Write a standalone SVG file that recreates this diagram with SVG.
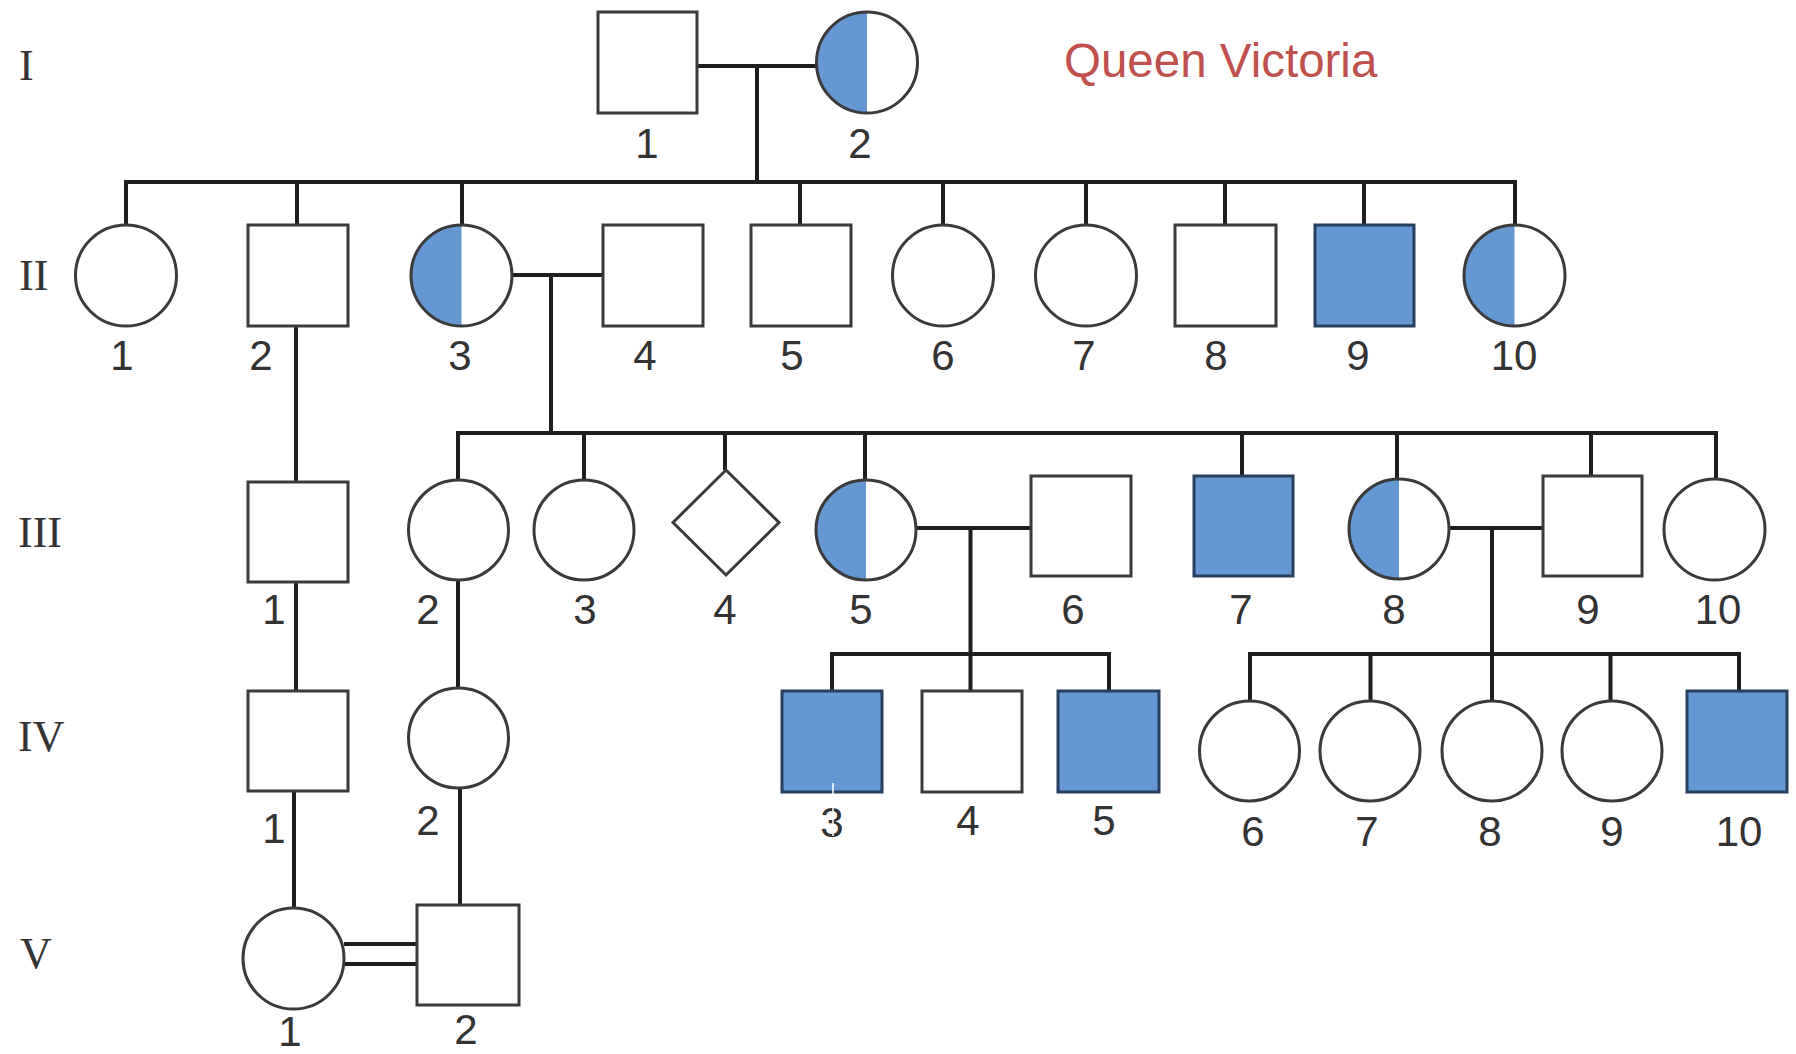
<svg xmlns="http://www.w3.org/2000/svg" width="1796" height="1054" viewBox="0 0 1796 1054">
  <style>
    .sq { fill: #ffffff; stroke: #3a3a3a; stroke-width: 3; }
    .ci { fill: #ffffff; stroke: #3a3a3a; stroke-width: 3; }
    .aff { fill: #6598d3; stroke: #26405e; stroke-width: 3; }
    .half { fill: #6598d3; stroke: none; }
    .outline { fill: none; stroke: #3a3a3a; stroke-width: 3; }
    .ln { stroke: #1e1e1e; stroke-width: 4; fill: none; }
    .lbl { font-family: "Liberation Sans", Arial, sans-serif; font-size: 42px; fill: #333333; text-anchor: middle; }
    .gen { font-family: "Liberation Serif", "Times New Roman", serif; font-size: 44px; fill: #333333; }
    .title { font-family: "Liberation Sans", Arial, sans-serif; font-size: 47.5px; fill: #c0504d; }
  </style>

  <rect width="1796" height="1054" fill="#ffffff"/>

  <!-- generation numerals -->
  <g id="generations">
    <text class="gen" x="19" y="80">I</text>
    <text class="gen" x="19" y="290">II</text>
    <text class="gen" x="18" y="547">III</text>
    <text class="gen" x="18" y="751">IV</text>
    <text class="gen" x="20" y="968">V</text>
  </g>

  <text id="title" class="title" x="1064" y="77">Queen Victoria</text>

  <!-- connectors: marriage, descent and sibship lines -->
  <g id="connectors">
    <!-- I-1 x I-2 -->
    <line class="ln" x1="697" y1="66" x2="817" y2="66"/>
    <line class="ln" x1="757" y1="66" x2="757" y2="182"/>
    <line class="ln" x1="124" y1="182" x2="1517" y2="182"/>
    <line class="ln" x1="126" y1="182" x2="126" y2="225"/>
    <line class="ln" x1="297" y1="182" x2="297" y2="225"/>
    <line class="ln" x1="462" y1="182" x2="462" y2="225"/>
    <line class="ln" x1="800" y1="182" x2="800" y2="225"/>
    <line class="ln" x1="943" y1="182" x2="943" y2="225"/>
    <line class="ln" x1="1086" y1="182" x2="1086" y2="225"/>
    <line class="ln" x1="1225" y1="182" x2="1225" y2="225"/>
    <line class="ln" x1="1364" y1="182" x2="1364" y2="225"/>
    <line class="ln" x1="1515" y1="182" x2="1515" y2="225"/>

    <!-- II-3 x II-4 -->
    <line class="ln" x1="512" y1="275" x2="603" y2="275"/>
    <line class="ln" x1="551" y1="275" x2="551" y2="433"/>
    <line class="ln" x1="456" y1="433" x2="1718" y2="433"/>
    <line class="ln" x1="458" y1="433" x2="458" y2="480"/>
    <line class="ln" x1="584" y1="433" x2="584" y2="480"/>
    <line class="ln" x1="725" y1="433" x2="725" y2="470"/>
    <line class="ln" x1="865" y1="433" x2="865" y2="480"/>
    <line class="ln" x1="1242" y1="433" x2="1242" y2="476"/>
    <line class="ln" x1="1397" y1="433" x2="1397" y2="479"/>
    <line class="ln" x1="1591" y1="433" x2="1591" y2="476"/>
    <line class="ln" x1="1716" y1="433" x2="1716" y2="479"/>

    <!-- II-2 line of descent -->
    <line class="ln" x1="296" y1="326" x2="296" y2="482"/>
    <line class="ln" x1="296" y1="582" x2="296" y2="691"/>
    <line class="ln" x1="294" y1="791" x2="294" y2="908"/>

    <!-- III-2 line of descent -->
    <line class="ln" x1="458" y1="580" x2="458" y2="688"/>
    <line class="ln" x1="460" y1="788" x2="460" y2="905"/>

    <!-- III-5 x III-6 -->
    <line class="ln" x1="916" y1="528" x2="1031" y2="528"/>
    <line class="ln" x1="970.5" y1="528" x2="970.5" y2="691"/>
    <line class="ln" x1="830" y1="654" x2="1111" y2="654"/>
    <line class="ln" x1="832" y1="654" x2="832" y2="691"/>
    <line class="ln" x1="1109" y1="654" x2="1109" y2="691"/>

    <!-- III-8 x III-9 -->
    <line class="ln" x1="1449" y1="528" x2="1543" y2="528"/>
    <line class="ln" x1="1492" y1="528" x2="1492" y2="701"/>
    <line class="ln" x1="1248" y1="654" x2="1741" y2="654"/>
    <line class="ln" x1="1250" y1="654" x2="1250" y2="701"/>
    <line class="ln" x1="1370.5" y1="654" x2="1370.5" y2="701"/>
    <line class="ln" x1="1610.5" y1="654" x2="1610.5" y2="701"/>
    <line class="ln" x1="1739" y1="654" x2="1739" y2="691"/>

    <!-- V-1 = V-2 consanguineous mating -->
    <line class="ln" x1="344" y1="944" x2="417" y2="944"/>
    <line class="ln" x1="344" y1="964" x2="417" y2="964"/>
  </g>

  <!-- Generation I -->
  <g id="I-1"><rect class="sq" x="598" y="12" width="99" height="101"/><text class="lbl" x="647" y="158">1</text></g>
  <g id="I-2">
    <path class="half" d="M867 12 A50.5 50.5 0 0 0 867 113 Z"/>
    <circle class="outline" cx="867" cy="62.5" r="50.5"/>
    <text class="lbl" x="860" y="158">2</text>
  </g>

  <!-- Generation II -->
  <g id="II-1"><circle class="ci" cx="126" cy="275.5" r="50.5"/><text class="lbl" x="122" y="370">1</text></g>
  <g id="II-2"><rect class="sq" x="248" y="225" width="100" height="101"/><text class="lbl" x="261" y="370">2</text></g>
  <g id="II-3">
    <path class="half" d="M461.5 225 A50.5 50.5 0 0 0 461.5 326 Z"/>
    <circle class="outline" cx="461.5" cy="275.5" r="50.5"/>
    <text class="lbl" x="460" y="370">3</text>
  </g>
  <g id="II-4"><rect class="sq" x="603" y="225" width="100" height="101"/><text class="lbl" x="645" y="370">4</text></g>
  <g id="II-5"><rect class="sq" x="751" y="225" width="100" height="101"/><text class="lbl" x="792" y="370">5</text></g>
  <g id="II-6"><circle class="ci" cx="943" cy="275.5" r="50.5"/><text class="lbl" x="943" y="370">6</text></g>
  <g id="II-7"><circle class="ci" cx="1086" cy="275.5" r="50.5"/><text class="lbl" x="1084" y="370">7</text></g>
  <g id="II-8"><rect class="sq" x="1175" y="225" width="101" height="101"/><text class="lbl" x="1216" y="370">8</text></g>
  <g id="II-9"><rect class="aff" x="1315" y="225" width="99" height="101"/><text class="lbl" x="1358" y="370">9</text></g>
  <g id="II-10">
    <path class="half" d="M1514.5 225 A50.5 50.5 0 0 0 1514.5 326 Z"/>
    <circle class="outline" cx="1514.5" cy="275.5" r="50.5"/>
    <text class="lbl" x="1514" y="370">10</text>
  </g>

  <!-- Generation III -->
  <g id="III-1"><rect class="sq" x="248" y="482" width="100" height="100"/><text class="lbl" x="274" y="624">1</text></g>
  <g id="III-2"><circle class="ci" cx="458.5" cy="530" r="50"/><text class="lbl" x="428" y="624">2</text></g>
  <g id="III-3"><circle class="ci" cx="584" cy="530" r="50"/><text class="lbl" x="585" y="624">3</text></g>
  <g id="III-4"><polygon class="sq" points="726,470 779,522.5 726,575 673,522.5"/><text class="lbl" x="725" y="624">4</text></g>
  <g id="III-5">
    <path class="half" d="M866 480 A50 50 0 0 0 866 580 Z"/>
    <circle class="outline" cx="866" cy="530" r="50"/>
    <text class="lbl" x="861" y="624">5</text>
  </g>
  <g id="III-6"><rect class="sq" x="1031" y="476" width="100" height="100"/><text class="lbl" x="1073" y="624">6</text></g>
  <g id="III-7"><rect class="aff" x="1194" y="476" width="99" height="100"/><text class="lbl" x="1241" y="624">7</text></g>
  <g id="III-8">
    <path class="half" d="M1399 479 A50 50 0 0 0 1399 579 Z"/>
    <circle class="outline" cx="1399" cy="529" r="50"/>
    <text class="lbl" x="1394" y="624">8</text>
  </g>
  <g id="III-9"><rect class="sq" x="1543" y="476" width="99" height="100"/><text class="lbl" x="1588" y="624">9</text></g>
  <g id="III-10"><circle class="ci" cx="1714.5" cy="529.5" r="50.5"/><text class="lbl" x="1718" y="624">10</text></g>

  <!-- Generation IV -->
  <g id="IV-1"><rect class="sq" x="248" y="691" width="100" height="100"/><text class="lbl" x="274" y="843">1</text></g>
  <g id="IV-2"><circle class="ci" cx="458.5" cy="738" r="50"/><text class="lbl" x="428" y="835">2</text></g>
  <g id="IV-3">
    <rect class="aff" x="782" y="691" width="100" height="101"/>
    <text class="lbl" x="832" y="837">3</text>
    <line x1="833" y1="783" x2="833" y2="836" stroke="#ffffff" stroke-width="1.5"/>
  </g>
  <g id="IV-4"><rect class="sq" x="922" y="691" width="100" height="101"/><text class="lbl" x="968" y="835">4</text></g>
  <g id="IV-5"><rect class="aff" x="1058" y="691" width="101" height="101"/><text class="lbl" x="1104" y="835">5</text></g>
  <g id="IV-6"><circle class="ci" cx="1249.5" cy="751" r="50"/><text class="lbl" x="1253" y="846">6</text></g>
  <g id="IV-7"><circle class="ci" cx="1370" cy="751" r="50"/><text class="lbl" x="1367" y="846">7</text></g>
  <g id="IV-8"><circle class="ci" cx="1492" cy="751" r="50"/><text class="lbl" x="1490" y="846">8</text></g>
  <g id="IV-9"><circle class="ci" cx="1612" cy="751" r="50"/><text class="lbl" x="1612" y="846">9</text></g>
  <g id="IV-10"><rect class="aff" x="1687" y="691" width="100" height="101"/><text class="lbl" x="1739" y="846">10</text></g>

  <!-- Generation V -->
  <g id="V-1"><circle class="ci" cx="293.5" cy="958.5" r="50.5"/><text class="lbl" x="290" y="1046">1</text></g>
  <g id="V-2"><rect class="sq" x="417" y="905" width="102" height="100"/><text class="lbl" x="466" y="1044">2</text></g>
</svg>
